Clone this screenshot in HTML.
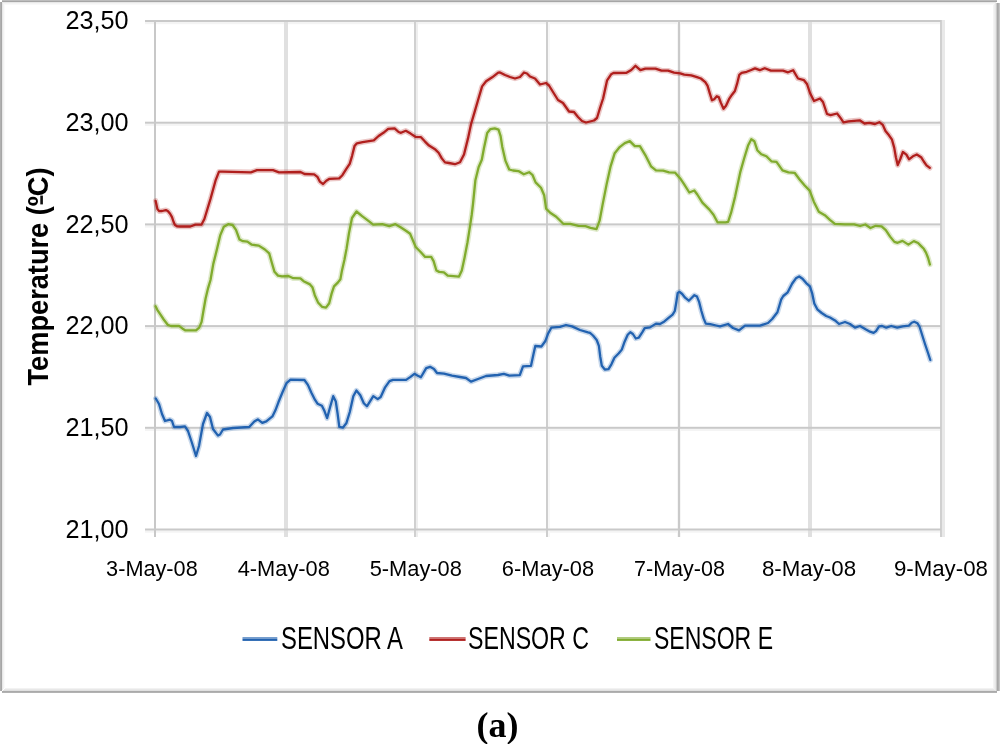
<!DOCTYPE html><html><head><meta charset="utf-8"><style>html,body{margin:0;padding:0;background:#fff;width:1000px;height:744px;overflow:hidden}svg{display:block;will-change:transform}</style></head><body>
<svg width="1000" height="744" viewBox="0 0 1000 744">
<rect x="0" y="0" width="1000" height="744" fill="#fff"/>
<rect x="2" y="0" width="995" height="1" fill="#bdbdbd"/><rect x="2" y="1" width="995" height="1" fill="#a6a6a6"/><rect x="2" y="2" width="994" height="1" fill="#e8e8e8"/><rect x="3" y="3" width="992" height="1" fill="#f4f4f4"/><rect x="4" y="4" width="990" height="1" fill="#f9f9f9"/><rect x="0" y="2" width="1" height="689" fill="#b0b0b0"/><rect x="1" y="2" width="1" height="689" fill="#a6a6a6"/><rect x="2" y="3" width="1" height="687" fill="#e8e8e8"/><rect x="3" y="4" width="1" height="685" fill="#f3f3f3"/><rect x="4" y="5" width="1" height="683" fill="#fafafa"/><rect x="5" y="688" width="990" height="1" fill="#f2f2f2"/><rect x="4" y="689" width="992" height="1" fill="#e8e8e8"/><rect x="3" y="690" width="993" height="1" fill="#e0e0e0"/><rect x="2" y="691" width="995" height="1" fill="#aaaaaa"/><rect x="2" y="692" width="995" height="1" fill="#b2b2b2"/><rect x="993" y="5" width="1" height="684" fill="#f4f4f4"/><rect x="994" y="4" width="1" height="686" fill="#eeeeee"/><rect x="995" y="3" width="1" height="688" fill="#e6e6e6"/><rect x="996" y="3" width="1" height="688" fill="#cacaca"/><rect x="997" y="3" width="1" height="688" fill="#a8a8a8"/><rect x="998" y="3" width="1" height="688" fill="#b0b0b0"/><rect x="999" y="3" width="1" height="688" fill="#c4c4c4"/>
<g><rect x="145" y="22" width="796" height="2.2" fill="#f4f4f4"/><rect x="145" y="123.7" width="796" height="2.2" fill="#f4f4f4"/><rect x="145" y="225.4" width="796" height="2.2" fill="#f4f4f4"/><rect x="145" y="327.1" width="796" height="2.2" fill="#f4f4f4"/><rect x="145" y="428.8" width="796" height="2.2" fill="#f4f4f4"/><rect x="145" y="530.5" width="796" height="2.2" fill="#f4f4f4"/><rect x="154" y="20" width="2" height="517" fill="#c8c8c8"/><rect x="284" y="20" width="4" height="517" fill="#e0e0e0"/><rect x="414" y="20" width="2" height="517" fill="#d0d0d0"/><rect x="416" y="20" width="2" height="517" fill="#eeeeee"/><rect x="546" y="20" width="2" height="517" fill="#cecece"/><rect x="548" y="20" width="2" height="517" fill="#f8f8f8"/><rect x="678" y="20" width="2" height="517" fill="#cacaca"/><rect x="680" y="20" width="1" height="517" fill="#f6f6f6"/><rect x="677" y="20" width="1" height="517" fill="#f6f6f6"/><rect x="808" y="20" width="4" height="517" fill="#e0e0e0"/><rect x="940" y="20" width="2" height="517" fill="#d0d0d0"/><rect x="942" y="20" width="3" height="517" fill="#e9e9e9"/><rect x="145" y="20" width="796" height="2" fill="#c9c9c9"/><rect x="145" y="121.7" width="796" height="2" fill="#c9c9c9"/><rect x="145" y="223.4" width="796" height="2" fill="#c9c9c9"/><rect x="145" y="325.1" width="796" height="2" fill="#c9c9c9"/><rect x="145" y="426.8" width="796" height="2" fill="#c9c9c9"/><rect x="145" y="528.5" width="796" height="2" fill="#c9c9c9"/></g>
<g fill="none" stroke-linejoin="round" stroke-linecap="round">
<polyline points="155.8,398.5 159,404 162,414 165,421 170,419.6 172,421 174,427 180,427 185,426.4 188,431 192,443 196,456 199,446 203,424 207,413 210,417 213,429 218,435.6 220,434.5 223,429.5 233.1,428 249.2,427 254.3,421.4 257.8,419.4 262.3,422.9 266.3,421.4 272.4,416.4 275.4,410.3 278.4,402.3 282.5,392.2 286.5,383.1 290.5,379.6 304.4,380 307.9,384.9 311.4,392.7 314.9,399.7 317.5,403.7 321.9,405.8 324.5,411.1 327.1,418.1 330.2,406.7 333.2,396.2 335.8,401.5 337.6,413.7 339.3,426.8 342.8,427.7 346.3,423.3 349.8,412 353.3,396.2 356.4,390.5 360.3,395.3 363.8,403.2 366.9,406.3 373.3,396.1 377.7,399.1 380.7,397 385.1,387.3 389.5,381.2 393,379.9 406.1,379.9 410.5,376.9 414.4,373.8 417.4,375.5 420.9,377.3 426.2,368.1 430.1,366.8 434,369 437,373 444,373.6 452,375.6 460,377 466,378 471,381.6 478,379 486,376 498,375 503.8,373.8 509.4,375.7 519.8,375.2 523,366.3 531,365.8 533.4,354.5 535.3,346 541.4,346.5 545.2,341.3 548,333.8 551.3,327.7 560,326.8 566,325 572,326.4 580,330 588,332.4 590,332.9 593,335.5 596.7,340 598.9,345.9 600.3,357 601.8,365.8 604.8,369.5 608.5,369.1 611.4,364.3 614.4,357.7 618.8,353.3 621.8,349.6 624.7,341.4 627.7,334.8 630.3,332.2 632.9,334 635.8,338.5 638.8,337.7 642.5,331.8 644.7,328.1 650,327.4 656,323.6 660,324 664.4,321.4 668.9,317.7 672.6,314.7 674.8,311 676.3,302.2 677.7,292.9 679.6,291.8 682.2,294 685.1,297.7 688.8,300.7 691.8,297.7 694.4,295.2 697,296.6 699.2,302.2 701.4,311 703.6,318.4 705.8,323.6 710.3,324.2 716.2,325.5 720,326.4 728,324 733,328 739,330.4 745,325.6 760,325.6 768,323 772.2,319 777.4,312.3 781.1,299.7 783.3,296 787.7,292.3 792.2,283.5 795.9,278.3 799.2,276.5 802.5,278.7 806.2,283.1 809.9,286.4 812.1,293.1 814.3,303.4 817.3,309.3 821.7,313 826.2,316 830,317.5 835,320.4 839,324 845,322 850,324 855,327.6 860,326 866,329.6 870,331.7 873.6,332.9 876,331.1 879.1,326.3 882.1,326 886.3,327.7 891.2,326 897.2,327.7 902.7,326.3 908.7,325.7 911.7,322.7 914.2,321.7 917.5,323.3 919.5,326.5 922,334.5 925,344 928.2,353.5 930.3,360" stroke="#2262b0" stroke-width="5.4" stroke-opacity="0.25"/>
<polyline points="155.8,398.5 159,404 162,414 165,421 170,419.6 172,421 174,427 180,427 185,426.4 188,431 192,443 196,456 199,446 203,424 207,413 210,417 213,429 218,435.6 220,434.5 223,429.5 233.1,428 249.2,427 254.3,421.4 257.8,419.4 262.3,422.9 266.3,421.4 272.4,416.4 275.4,410.3 278.4,402.3 282.5,392.2 286.5,383.1 290.5,379.6 304.4,380 307.9,384.9 311.4,392.7 314.9,399.7 317.5,403.7 321.9,405.8 324.5,411.1 327.1,418.1 330.2,406.7 333.2,396.2 335.8,401.5 337.6,413.7 339.3,426.8 342.8,427.7 346.3,423.3 349.8,412 353.3,396.2 356.4,390.5 360.3,395.3 363.8,403.2 366.9,406.3 373.3,396.1 377.7,399.1 380.7,397 385.1,387.3 389.5,381.2 393,379.9 406.1,379.9 410.5,376.9 414.4,373.8 417.4,375.5 420.9,377.3 426.2,368.1 430.1,366.8 434,369 437,373 444,373.6 452,375.6 460,377 466,378 471,381.6 478,379 486,376 498,375 503.8,373.8 509.4,375.7 519.8,375.2 523,366.3 531,365.8 533.4,354.5 535.3,346 541.4,346.5 545.2,341.3 548,333.8 551.3,327.7 560,326.8 566,325 572,326.4 580,330 588,332.4 590,332.9 593,335.5 596.7,340 598.9,345.9 600.3,357 601.8,365.8 604.8,369.5 608.5,369.1 611.4,364.3 614.4,357.7 618.8,353.3 621.8,349.6 624.7,341.4 627.7,334.8 630.3,332.2 632.9,334 635.8,338.5 638.8,337.7 642.5,331.8 644.7,328.1 650,327.4 656,323.6 660,324 664.4,321.4 668.9,317.7 672.6,314.7 674.8,311 676.3,302.2 677.7,292.9 679.6,291.8 682.2,294 685.1,297.7 688.8,300.7 691.8,297.7 694.4,295.2 697,296.6 699.2,302.2 701.4,311 703.6,318.4 705.8,323.6 710.3,324.2 716.2,325.5 720,326.4 728,324 733,328 739,330.4 745,325.6 760,325.6 768,323 772.2,319 777.4,312.3 781.1,299.7 783.3,296 787.7,292.3 792.2,283.5 795.9,278.3 799.2,276.5 802.5,278.7 806.2,283.1 809.9,286.4 812.1,293.1 814.3,303.4 817.3,309.3 821.7,313 826.2,316 830,317.5 835,320.4 839,324 845,322 850,324 855,327.6 860,326 866,329.6 870,331.7 873.6,332.9 876,331.1 879.1,326.3 882.1,326 886.3,327.7 891.2,326 897.2,327.7 902.7,326.3 908.7,325.7 911.7,322.7 914.2,321.7 917.5,323.3 919.5,326.5 922,334.5 925,344 928.2,353.5 930.3,360" stroke="#2262b0" stroke-width="2.3"/>
<polyline points="155.6,200.8 157.4,209.1 159.3,211.2 162.1,211 165.9,210.1 167.8,211 170.1,213.8 172,217.1 173.6,222 175,225 177,226.3 180.2,226.5 190.3,226.5 195.4,224.7 201.4,224.7 204.4,219 210.5,198.9 215.5,180.7 219,171.7 222.6,171.7 250.8,172.3 256.9,170.2 273,170.2 279,172.3 300.5,172 304.5,174 314.2,174.4 317.4,176.8 319.8,181.6 323.1,184 326.3,180.8 329.5,178.8 339.2,178.4 342.4,175.2 346.5,168.7 349.7,163.9 352.1,155.8 354.5,146.1 356.9,143.3 362.6,142.1 367.4,141.3 373.8,140.4 378.6,136 383.4,132.8 388.2,128.8 394.6,128.4 398.6,132 401,132.8 405.8,130.8 410.6,133.6 415.4,136.8 421,137.2 425,141.6 429,145.6 435.4,149.6 438.6,152.8 441.8,158.4 445,162.4 448.9,163 454.9,164.2 460,162.2 464,154.5 468,138.4 471,124.3 475,110.6 479.1,96.5 482.1,86.4 486.1,81.3 492.2,77.3 498.2,72.7 500,72.5 505,75 510,77 515,78.5 520,77 524,72.5 527,73.5 530,76.5 535,78.5 540,84.5 546,83 549,85.5 553,92 558,100 563,103 569,111.5 574,112 578,117 582,121 586,122.5 594,120.5 597,118 600,108 603.1,98.5 607.1,80.3 611.1,74.3 613.5,73 626.5,72.8 631.3,70 635.5,65.8 640.4,70.2 645.4,68.6 655.5,68.6 661.5,70.6 668.1,70.6 674.1,72.7 680.2,73.3 684.2,74.7 691.3,75.3 697,77.1 700.9,78.5 705.3,82.2 707.6,85.9 709.8,93.3 712,100.3 714.2,99.2 716.8,96.2 718.7,97 720.9,102.9 723.5,108.8 726,105.8 729,99.2 732,94.7 734.9,91 737.1,83.7 739.3,74.8 741.6,72.9 746.7,71.8 751.2,70 755,68.4 759.8,70.2 764.8,68.2 770.9,70.6 783,70.6 788,72.3 793.1,70.2 796.5,76 798,78.5 804,80.2 807,84 810,93 814,101 820,98.5 823,102 827,114 830.6,115.2 837.1,113.5 840.3,117.6 843.5,122.4 848.4,121.3 859.7,120.3 864.5,123.5 869.4,122.9 875,124 879.3,122.2 882.8,124.9 885.5,131 889,135.3 892,139.7 894.2,147.6 895.9,157.2 897.7,165.1 900.3,159 902.9,152 906.4,154.6 909,159.3 912.9,156.3 916.8,154.5 921.1,157.2 923.8,161.5 926.5,165.3 929.8,167.8" stroke="#b01f1d" stroke-width="5.4" stroke-opacity="0.25"/>
<polyline points="155.6,200.8 157.4,209.1 159.3,211.2 162.1,211 165.9,210.1 167.8,211 170.1,213.8 172,217.1 173.6,222 175,225 177,226.3 180.2,226.5 190.3,226.5 195.4,224.7 201.4,224.7 204.4,219 210.5,198.9 215.5,180.7 219,171.7 222.6,171.7 250.8,172.3 256.9,170.2 273,170.2 279,172.3 300.5,172 304.5,174 314.2,174.4 317.4,176.8 319.8,181.6 323.1,184 326.3,180.8 329.5,178.8 339.2,178.4 342.4,175.2 346.5,168.7 349.7,163.9 352.1,155.8 354.5,146.1 356.9,143.3 362.6,142.1 367.4,141.3 373.8,140.4 378.6,136 383.4,132.8 388.2,128.8 394.6,128.4 398.6,132 401,132.8 405.8,130.8 410.6,133.6 415.4,136.8 421,137.2 425,141.6 429,145.6 435.4,149.6 438.6,152.8 441.8,158.4 445,162.4 448.9,163 454.9,164.2 460,162.2 464,154.5 468,138.4 471,124.3 475,110.6 479.1,96.5 482.1,86.4 486.1,81.3 492.2,77.3 498.2,72.7 500,72.5 505,75 510,77 515,78.5 520,77 524,72.5 527,73.5 530,76.5 535,78.5 540,84.5 546,83 549,85.5 553,92 558,100 563,103 569,111.5 574,112 578,117 582,121 586,122.5 594,120.5 597,118 600,108 603.1,98.5 607.1,80.3 611.1,74.3 613.5,73 626.5,72.8 631.3,70 635.5,65.8 640.4,70.2 645.4,68.6 655.5,68.6 661.5,70.6 668.1,70.6 674.1,72.7 680.2,73.3 684.2,74.7 691.3,75.3 697,77.1 700.9,78.5 705.3,82.2 707.6,85.9 709.8,93.3 712,100.3 714.2,99.2 716.8,96.2 718.7,97 720.9,102.9 723.5,108.8 726,105.8 729,99.2 732,94.7 734.9,91 737.1,83.7 739.3,74.8 741.6,72.9 746.7,71.8 751.2,70 755,68.4 759.8,70.2 764.8,68.2 770.9,70.6 783,70.6 788,72.3 793.1,70.2 796.5,76 798,78.5 804,80.2 807,84 810,93 814,101 820,98.5 823,102 827,114 830.6,115.2 837.1,113.5 840.3,117.6 843.5,122.4 848.4,121.3 859.7,120.3 864.5,123.5 869.4,122.9 875,124 879.3,122.2 882.8,124.9 885.5,131 889,135.3 892,139.7 894.2,147.6 895.9,157.2 897.7,165.1 900.3,159 902.9,152 906.4,154.6 909,159.3 912.9,156.3 916.8,154.5 921.1,157.2 923.8,161.5 926.5,165.3 929.8,167.8" stroke="#b01f1d" stroke-width="2.3"/>
<polyline points="155.6,306.3 157.3,309.8 160.5,314.7 163.7,319.5 167.7,324.8 171,326 179,325.8 182.3,328.4 185.5,330.4 196,330.4 199.2,327.6 201.6,321.9 203.2,312.3 205.6,298.5 208.1,288.1 210.5,280 213.3,263.9 216.8,249.9 220.3,235.1 223.8,226.8 228.2,224.2 232.6,225 236,229.8 239.5,239.5 243,241.2 247.4,241.6 251.8,244.7 258.8,245.6 264.9,249.5 269.2,253.4 271.9,263 274.5,271.8 278,275.6 282,276.4 288.4,276 293.2,278.2 300.4,278.4 303.6,281.2 310,284.4 312.4,287.2 314.8,295.2 318,302.4 322,306.8 326,307.6 329.2,303.2 331.6,293.6 334,286.4 338,282.4 340.4,279.2 342,270.4 344.4,260 346.6,248.4 349,233 352,218 356.5,211.5 362.1,216.1 368.1,220.6 373.2,224.6 382.3,224.2 389.3,226.2 395.4,224.2 400.6,227.2 406.3,231 410.1,233.8 412.9,240.4 415.7,247 420.4,251.7 425.1,256.9 431.2,256.9 433.6,261.1 436.4,270.5 439.2,271.9 443.9,272.4 447.7,275.7 459,276.6 461.8,270.5 464.6,257.4 467.5,242.3 470.3,224.4 471.7,215 473,204 475.4,180.2 478.6,167.3 481.8,159.8 484,148 487.2,132.9 490.4,129.1 494.7,128.4 498.5,129.7 500.6,136.1 502.3,146.9 505.5,160.9 509.2,169.5 513,170.5 518.4,171.1 523.8,174.3 529.1,172.2 532.4,174.8 535.6,182.4 541,187.7 544.2,195.3 546.1,208.6 550.2,212.7 556.2,216.7 563.3,223.8 570.3,223.8 578.4,225.8 585.4,226.2 590.5,227.8 596.5,229.2 599.6,220.7 602.6,204.6 606.6,184.4 610.6,166.3 614.7,153.2 619.7,147.1 624.8,143.1 629.8,141.1 634.8,146.1 639.9,146.1 645.9,156.2 651,166.3 656,170.3 663.1,170.7 669.1,172.3 675.2,172.7 680.2,178.4 684.2,184.4 689.3,192.5 694.3,190.5 697.3,194.5 702.4,202.6 709.4,209.6 713.5,214.7 717.5,222.3 725.6,222.3 728.1,221.8 731.1,212.7 735.1,196.6 740.2,172.4 744.2,158.3 748.2,145.2 751.3,139.2 754.3,141.2 757.3,150.2 761.3,154.3 766.4,156.3 771.4,161.3 776.5,161.9 782.5,170.4 788.5,172.4 794.6,172.8 799.6,179.5 804.7,185.5 809.7,190.6 813.8,201.7 818.8,211.7 824.8,215.2 829.9,219.8 834.9,223.8 845,224.4 854.1,224.4 860.1,226 865.3,224.5 870.5,228 875.7,225.8 881.6,226.4 885.8,230.1 890.1,236.6 894.4,241.9 897.6,242.8 902.5,240.9 908.4,244.6 913.8,241.1 918.1,243 921.1,246.1 923.8,248.8 926,252.6 928.1,258 929.9,264.5" stroke="#80ab2e" stroke-width="5.4" stroke-opacity="0.25"/>
<polyline points="155.6,306.3 157.3,309.8 160.5,314.7 163.7,319.5 167.7,324.8 171,326 179,325.8 182.3,328.4 185.5,330.4 196,330.4 199.2,327.6 201.6,321.9 203.2,312.3 205.6,298.5 208.1,288.1 210.5,280 213.3,263.9 216.8,249.9 220.3,235.1 223.8,226.8 228.2,224.2 232.6,225 236,229.8 239.5,239.5 243,241.2 247.4,241.6 251.8,244.7 258.8,245.6 264.9,249.5 269.2,253.4 271.9,263 274.5,271.8 278,275.6 282,276.4 288.4,276 293.2,278.2 300.4,278.4 303.6,281.2 310,284.4 312.4,287.2 314.8,295.2 318,302.4 322,306.8 326,307.6 329.2,303.2 331.6,293.6 334,286.4 338,282.4 340.4,279.2 342,270.4 344.4,260 346.6,248.4 349,233 352,218 356.5,211.5 362.1,216.1 368.1,220.6 373.2,224.6 382.3,224.2 389.3,226.2 395.4,224.2 400.6,227.2 406.3,231 410.1,233.8 412.9,240.4 415.7,247 420.4,251.7 425.1,256.9 431.2,256.9 433.6,261.1 436.4,270.5 439.2,271.9 443.9,272.4 447.7,275.7 459,276.6 461.8,270.5 464.6,257.4 467.5,242.3 470.3,224.4 471.7,215 473,204 475.4,180.2 478.6,167.3 481.8,159.8 484,148 487.2,132.9 490.4,129.1 494.7,128.4 498.5,129.7 500.6,136.1 502.3,146.9 505.5,160.9 509.2,169.5 513,170.5 518.4,171.1 523.8,174.3 529.1,172.2 532.4,174.8 535.6,182.4 541,187.7 544.2,195.3 546.1,208.6 550.2,212.7 556.2,216.7 563.3,223.8 570.3,223.8 578.4,225.8 585.4,226.2 590.5,227.8 596.5,229.2 599.6,220.7 602.6,204.6 606.6,184.4 610.6,166.3 614.7,153.2 619.7,147.1 624.8,143.1 629.8,141.1 634.8,146.1 639.9,146.1 645.9,156.2 651,166.3 656,170.3 663.1,170.7 669.1,172.3 675.2,172.7 680.2,178.4 684.2,184.4 689.3,192.5 694.3,190.5 697.3,194.5 702.4,202.6 709.4,209.6 713.5,214.7 717.5,222.3 725.6,222.3 728.1,221.8 731.1,212.7 735.1,196.6 740.2,172.4 744.2,158.3 748.2,145.2 751.3,139.2 754.3,141.2 757.3,150.2 761.3,154.3 766.4,156.3 771.4,161.3 776.5,161.9 782.5,170.4 788.5,172.4 794.6,172.8 799.6,179.5 804.7,185.5 809.7,190.6 813.8,201.7 818.8,211.7 824.8,215.2 829.9,219.8 834.9,223.8 845,224.4 854.1,224.4 860.1,226 865.3,224.5 870.5,228 875.7,225.8 881.6,226.4 885.8,230.1 890.1,236.6 894.4,241.9 897.6,242.8 902.5,240.9 908.4,244.6 913.8,241.1 918.1,243 921.1,246.1 923.8,248.8 926,252.6 928.1,258 929.9,264.5" stroke="#80ab2e" stroke-width="2.3"/>
</g>
<g font-family="Liberation Sans, sans-serif" fill="#000"><text x="128.6" y="29.2" font-size="26" text-anchor="end" textLength="63.2" lengthAdjust="spacingAndGlyphs">23,50</text><text x="128.6" y="130.9" font-size="26" text-anchor="end" textLength="63.2" lengthAdjust="spacingAndGlyphs">23,00</text><text x="128.6" y="232.6" font-size="26" text-anchor="end" textLength="63.2" lengthAdjust="spacingAndGlyphs">22,50</text><text x="128.6" y="334.3" font-size="26" text-anchor="end" textLength="63.2" lengthAdjust="spacingAndGlyphs">22,00</text><text x="128.6" y="436.0" font-size="26" text-anchor="end" textLength="63.2" lengthAdjust="spacingAndGlyphs">21,50</text><text x="128.6" y="537.7" font-size="26" text-anchor="end" textLength="63.2" lengthAdjust="spacingAndGlyphs">21,00</text><text x="151.9" y="575.8" font-size="22.7" text-anchor="middle" textLength="91.6" lengthAdjust="spacingAndGlyphs">3-May-08</text><text x="283.8" y="575.8" font-size="22.7" text-anchor="middle" textLength="92.2" lengthAdjust="spacingAndGlyphs">4-May-08</text><text x="415.8" y="575.8" font-size="22.7" text-anchor="middle" textLength="92.2" lengthAdjust="spacingAndGlyphs">5-May-08</text><text x="548" y="575.8" font-size="22.7" text-anchor="middle" textLength="92.3" lengthAdjust="spacingAndGlyphs">6-May-08</text><text x="679.5" y="575.8" font-size="22.7" text-anchor="middle" textLength="90.8" lengthAdjust="spacingAndGlyphs">7-May-08</text><text x="809" y="575.8" font-size="22.7" text-anchor="middle" textLength="94.2" lengthAdjust="spacingAndGlyphs">8-May-08</text><text x="940.9" y="575.8" font-size="22.7" text-anchor="middle" textLength="94" lengthAdjust="spacingAndGlyphs">9-May-08</text><text transform="translate(47.5,385.5) rotate(-90)" font-size="29" font-weight="bold" textLength="218" lengthAdjust="spacingAndGlyphs">Temperature (ºC)</text><rect x="40.3" y="195.6" width="2.6" height="8.8" fill="#111"/><rect x="242.5" y="637" width="34.8" height="1.6" fill="#2262b0" fill-opacity="0.62"/><rect x="242.5" y="638.6" width="34.8" height="2.3" fill="#2262b0"/><text x="281" y="648.5" font-size="30.5" textLength="122" lengthAdjust="spacingAndGlyphs">SENSOR A</text><rect x="429.3" y="637" width="36.3" height="1.6" fill="#b01f1d" fill-opacity="0.62"/><rect x="429.3" y="638.6" width="36.3" height="2.3" fill="#b01f1d"/><text x="468" y="648.5" font-size="30.5" textLength="121" lengthAdjust="spacingAndGlyphs">SENSOR C</text><rect x="617" y="637" width="33.5" height="1.6" fill="#80ab2e" fill-opacity="0.62"/><rect x="617" y="638.6" width="33.5" height="2.3" fill="#80ab2e"/><text x="654" y="648.5" font-size="30.5" textLength="119" lengthAdjust="spacingAndGlyphs">SENSOR E</text></g><text x="497.5" y="737" font-family="Liberation Serif, serif" font-weight="bold" font-size="36" text-anchor="middle">(a)</text>
</svg></body></html>
